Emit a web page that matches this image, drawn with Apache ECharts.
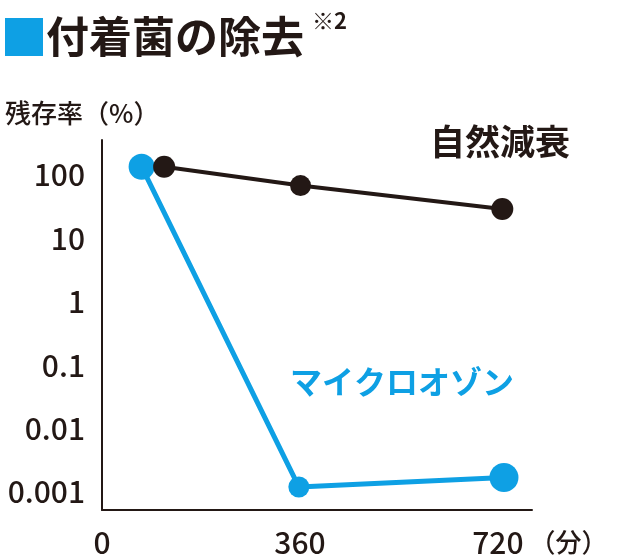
<!DOCTYPE html>
<html><head><meta charset="utf-8">
<script src="https://cdn.jsdelivr.net/npm/echarts@6/dist/echarts.min.js"></script>
<style>html,body{margin:0;padding:0;background:#fff}#c{width:640px;height:560px}</style>
</head><body><div id="c"></div>
<script>
const titleText = '付着菌の除去';
const titleNote = '※2';
const yAxisName = '残存率（%）';
const xAxisName = '（分）';
const seriesNames = ['自然減衰', 'マイクロオゾン'];
// [minutes, residual %]
const naturalX = [113, 361, 728];
const naturalY = [135, 68, 29];
const ozoneX = [72, 358, 731];
const ozoneY = [135, 0.0012, 0.0017];
const ozoneSizes = [26, 21, 29];
const naturalSizes = [22, 21, 22];

const BLUE = '#0EA0E4';
const INK = '#231815';
const JP = '"Noto Sans CJK JP", "Noto Sans", sans-serif';

const chart = echarts.init(document.getElementById('c'), null, {renderer: 'canvas'});
const pairs = (xs, ys) => xs.map((x, i) => [x, ys[i]]);

chart.setOption({
  animation: false,
  backgroundColor: '#fff',
  textStyle: {fontFamily: JP, color: INK},
  title: {
    left: 5, top: 10, padding: 0,
    text: '{sq|}{t|' + titleText + '}{sup|' + titleNote + '}',
    textStyle: {
      rich: {
        sq: {width: 38, height: 38, backgroundColor: BLUE, verticalAlign: 'middle'},
        t: {fontSize: 43, fontWeight: 'bold', color: INK, fontFamily: JP, padding: [0, 0, 0, 3], lineHeight: 54},
        sup: {fontSize: 22, lineHeight: 24, color: INK, fontFamily: JP, verticalAlign: 'top', padding: [0, 0, 0, 8]}
      }
    }
  },
  grid: {left: 102, right: 108, top: 140, bottom: 50, containLabel: false},
  xAxis: {
    type: 'value', min: 0, max: 782, interval: 360,
    axisLine: {lineStyle: {color: INK, width: 2}},
    axisTick: {show: false}, splitLine: {show: false},
    axisLabel: {
      margin: 18, fontSize: 30, fontWeight: 500, color: INK, fontFamily: JP,
      formatter: v => (v % 360 === 0 ? String(v) : '')
    },
    name: xAxisName, nameLocation: 'end', nameGap: -15,
    nameTextStyle: {fontSize: 26, fontWeight: 500, color: INK, fontFamily: JP, verticalAlign: 'top', padding: [19, 0, 0, 0]}
  },
  yAxis: {
    type: 'log', logBase: 10, min: 0.00052, max: 356,
    axisLine: {show: true, lineStyle: {color: INK, width: 2}},
    axisTick: {show: false}, splitLine: {show: false},
    axisLabel: {
      margin: 17, fontSize: 30, fontWeight: 500, color: INK, fontFamily: JP,
      formatter: v => {
        const l = Math.log10(v);
        if (Math.abs(l - Math.round(l)) > 1e-6) return '';
        const r = Math.round(l);
        return r >= 0 ? String(Math.pow(10, r)) : (Math.pow(10, r)).toFixed(-r);
      }
    },
    name: yAxisName, nameLocation: 'end', nameGap: 14,
    nameTextStyle: {fontSize: 26, fontWeight: 500, color: INK, fontFamily: JP, align: 'left', padding: [0, 0, 0, -97]}
  },
  series: [
    {
      name: seriesNames[0], type: 'line', z: 3,
      data: pairs(naturalX, naturalY),
      symbol: 'circle', symbolSize: (v, p) => naturalSizes[p.dataIndex],
      lineStyle: {color: INK, width: 4}, itemStyle: {color: INK}
    },
    {
      name: seriesNames[1], type: 'line', z: 2,
      data: pairs(ozoneX, ozoneY),
      symbol: 'circle', symbolSize: (v, p) => ozoneSizes[p.dataIndex],
      lineStyle: {color: BLUE, width: 5}, itemStyle: {color: BLUE}
    }
  ],
  graphic: [
    {type: 'text', left: 430, top: 124, style: {text: seriesNames[0], font: 'bold 35px ' + JP, fill: INK}},
    {type: 'text', left: 290, top: 366, style: {text: seriesNames[1], font: 'bold 32px ' + JP, fill: BLUE}}
  ]
});
</script></body></html>
